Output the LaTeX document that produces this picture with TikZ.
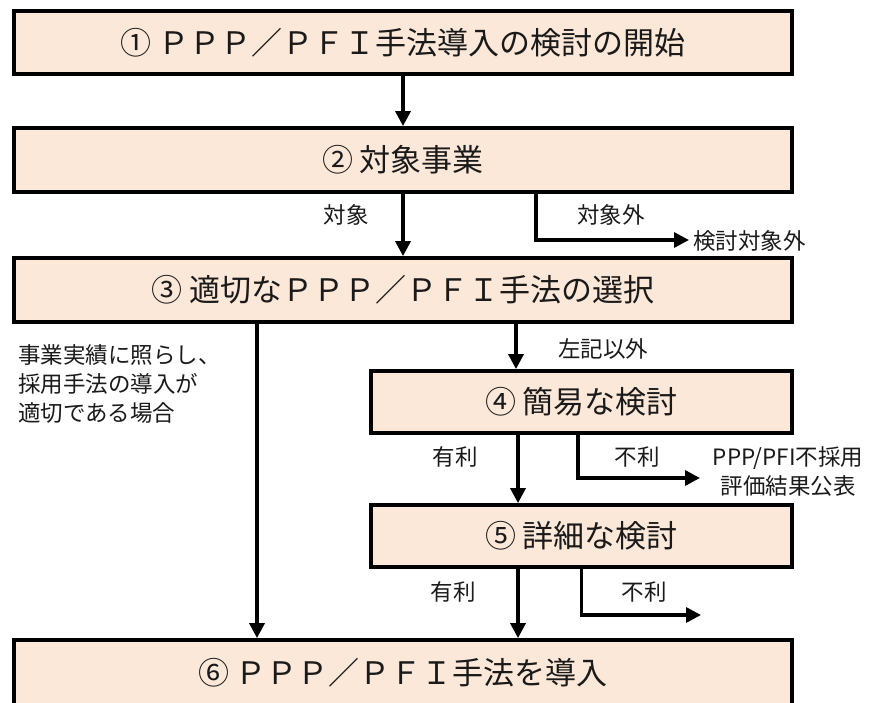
\documentclass[tikz,border=0pt]{standalone}
\usepackage{fontspec}
\setmainfont{Noto Sans CJK JP}
\usetikzlibrary{arrows.meta}
\definecolor{boxfill}{HTML}{FCE8D9}
\definecolor{ink}{HTML}{1A1A1A}
\begin{document}
\begin{tikzpicture}[x=1pt,y=-1pt,
  box/.style={draw=black, line width=3.8pt, fill=boxfill, inner sep=0pt,
              text=ink, font=\fontsize{31}{36}\selectfont},
  conn/.style={draw=black, line width=3.3pt, -{Triangle[length=15pt,width=15pt]}},
  lbl/.style={text=ink, font=\fontsize{22.5}{29}\selectfont, inner sep=0pt}]
\clip (0,0) rectangle (875,702);
\useasboundingbox (0,0) rectangle (875,702);
\fill[white] (0,0) rectangle (875,702);

% boxes
\node[box, minimum width=778pt, minimum height=63pt] (b1) at (403,42.5)
  {① ＰＰＰ／ＰＦＩ手法導入の検討の開始};
\node[box, minimum width=778pt, minimum height=64pt] (b2) at (403,160)
  {② 対象事業};
\node[box, minimum width=778pt, minimum height=64pt] (b3) at (403,290)
  {③ 適切なＰＰＰ／ＰＦＩ手法の選択};
\node[box, minimum width=421pt, minimum height=62pt] (b4) at (581.5,402)
  {④ 簡易な検討};
\node[box, minimum width=421pt, minimum height=62pt] (b5) at (581.5,536)
  {⑤ 詳細な検討};
\node[box, minimum width=778pt, minimum height=66pt] (b6) at (403,673)
  {⑥ ＰＰＰ／ＰＦＩ手法を導入};

% labels
\node[lbl] (l1) at (346,215) {対象};
\node[lbl] (l2) at (611,215) {対象外};
\node[lbl, anchor=west] (t1) at (693,241) {検討対象外};
\node[lbl, anchor=west, align=left] (l3) at (18,384)
  {事業実績に照らし、\\採用手法の導入が\\適切である場合};
\node[lbl] (l4) at (603,349) {左記以外};
\node[lbl] (l5) at (455,457) {有利};
\node[lbl] (l6) at (637,457) {不利};
\node[lbl, align=center] (t2) at (788,472) {PPP/PFI不採用\\評価結果公表};
\node[lbl] (l7) at (453,592) {有利};
\node[lbl] (l8) at (644,592) {不利};

\coordinate (e1) at (689,240);
\coordinate (e4) at (700,478);
\coordinate (e5) at (701,615);

% connectors
\draw[conn] (b1.south) -- (b2.north);
\draw[conn] (b2.south) -- (b3.north);
\draw[conn] ([xshift=133pt]b2.south) |- (e1);
\draw[conn] ([xshift=-146pt]b3.south) -- ([xshift=-146pt]b6.north);
\draw[conn] ([xshift=113pt]b3.south) -- ([xshift=113pt]b3.south |- b4.north);
\draw[conn] ([xshift=-63.5pt]b4.south) -- ([xshift=-63.5pt]b5.north);
\draw[conn] ([xshift=-3.5pt]b4.south) |- (e4);
\draw[conn] ([xshift=-63.5pt]b5.south) -- ([xshift=-63.5pt]b5.south |- b6.north);
\draw[conn] (b5.south) |- (e5);
\end{tikzpicture}
\end{document}
